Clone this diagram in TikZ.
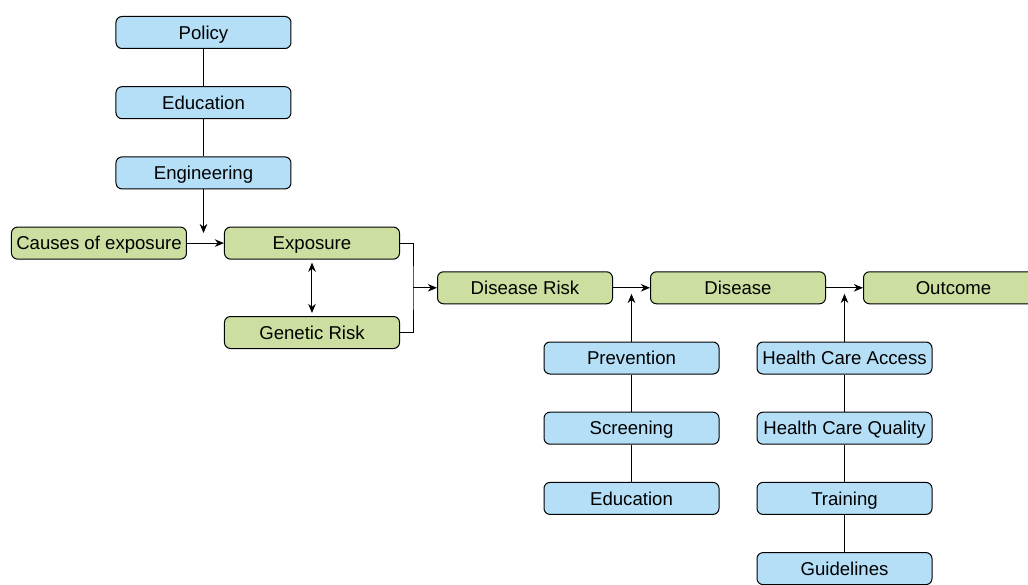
\documentclass[tikz,border=0pt]{standalone}
\usepackage{fontspec}
\setmainfont{Liberation Sans}
\usetikzlibrary{arrows.meta,positioning,calc}
\definecolor{boxblue}{HTML}{B4DFF7}
\definecolor{boxgreen}{HTML}{CCDFA0}

\begin{document}
\begin{tikzpicture}[node distance=18.6pt and 18.5pt,>={Stealth[length=4.6pt,width=3.8pt]},line width=0.5pt,
    box/.style={draw,rounded corners=3pt,minimum width=87.5pt,minimum height=16pt,inner sep=1pt,
      text height=6.7pt,text depth=0pt,font=\fontsize{9.3}{11}\selectfont},
    bluebox/.style={box,fill=boxblue},
    greenbox/.style={box,fill=boxgreen}]
    % Exposure and risk
    \node[greenbox] (exp) {Exposure};
    \node[greenbox,left=of exp] (causes) {Causes of exposure};
    \node[greenbox,below=28.2pt of exp] (gen) {Genetic Risk};
    \coordinate (join) at ($(exp.east)!0.5!(gen.east)$);
    \coordinate (brk) at ($(join)+(6.5pt,0)$);
    \node[greenbox,right=of join] (drisk) {Disease Risk};
    \node[greenbox,right=of drisk] (dis) {Disease};
    \node[greenbox,right=of dis,minimum width=90pt] (outc) {Outcome};
    % Interventions on exposure
    \coordinate (engbase) at ($(causes.north east)!0.5!(exp.north west)$);
    \coordinate (engend) at ($(causes.east)!0.5!(exp.west)+(-1pt,5pt)$);
    \node[bluebox,above=of engbase,xshift=-1pt] (eng) {Engineering};
    \node[bluebox,above=of eng] (edu) {Education};
    \node[bluebox,above=of edu] (pol) {Policy};
    % Interventions on disease risk
    \coordinate (prevbase) at ($(drisk.south east)!0.5!(dis.south west)$);
    \coordinate (prevend) at ($(drisk.east)!0.5!(dis.west)+(0,-3pt)$);
    \node[bluebox,below=of prevbase] (prev) {Prevention};
    \node[bluebox,below=of prev] (scr) {Screening};
    \node[bluebox,below=of scr] (edub) {Education};
    % Interventions on disease
    \coordinate (hcbase) at ($(dis.south east)!0.5!(outc.south west)$);
    \coordinate (hcend) at ($(dis.east)!0.5!(outc.west)+(0,-3pt)$);
    \node[bluebox,below=of hcbase] (hca) {Health Care Access};
    \node[bluebox,below=of hca] (hcq) {Health Care Quality};
    \node[bluebox,below=of hcq] (train) {Training};
    \node[bluebox,below=of train] (guide) {Guidelines};
    % Connectors
    \draw (pol) -- (edu);
    \draw (edu) -- (eng);
    \draw[->] (eng) -- (engend);
    \draw[->] (causes) -- (exp);
    \draw[<->,shorten <=1.5pt,shorten >=1.5pt] (exp) -- (gen);
    \draw (exp.east) -| (brk) |- (gen.east);
    \draw[->] (brk) -- (drisk);
    \draw[->] (drisk) -- (dis);
    \draw[->] (dis) -- (outc);
    \draw (edub) -- (scr);
    \draw (scr) -- (prev);
    \draw[->] (prev) -- (prevend);
    \draw (guide) -- (train);
    \draw (train) -- (hcq);
    \draw (hcq) -- (hca);
    \draw[->] (hca) -- (hcend);
    \pgfresetboundingbox
    \useasboundingbox ($(causes.west |- pol.north)+(-5.5pt,8pt)$) rectangle ++(514pt,-292pt);
\end{tikzpicture}
\end{document}
